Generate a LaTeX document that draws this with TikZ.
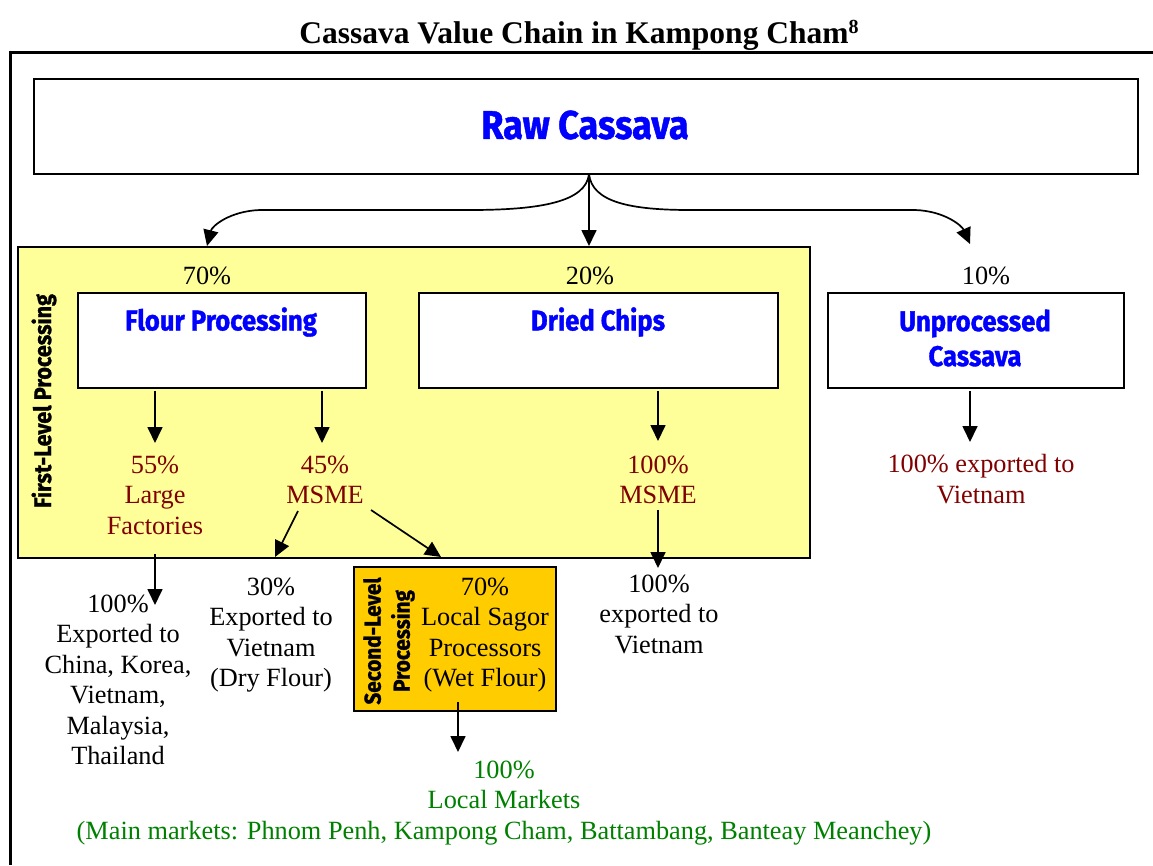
\documentclass[tikz,border=0pt]{standalone}
\usepackage{fontspec}
\setmainfont{Liberation Serif}
\newfontfamily\condfont[FakeStretch=0.9,FakeBold=1.2]{Fira Sans}
\usetikzlibrary{arrows.meta,calc}
\definecolor{dred}{RGB}{128,0,0}
\definecolor{dgreen}{RGB}{0,128,0}
\definecolor{lyellow}{RGB}{255,255,153}
\definecolor{gold}{RGB}{255,204,0}
\tikzset{
  box/.style={draw=black,line width=2pt,fill=white,inner sep=0pt,anchor=north west},
  lbl/.style={font=\condfont\bfseries\fontsize{28.5}{35}\selectfont,text=blue,align=center},
  txt/.style={font=\fontsize{26.3}{30.5}\selectfont,align=center,inner sep=0pt},
  rtxt/.style={txt,text=dred},
  gtxt/.style={txt,text=dgreen},
  side/.style={font=\condfont\bfseries\fontsize{24}{30}\selectfont,rotate=90,align=center,inner sep=0pt},
  arr/.style={line width=1.7pt,-{Triangle[width=15pt,length=16pt]}},
}
\begin{document}
\begin{tikzpicture}[x=1pt,y=-1pt]
\useasboundingbox (0,0) rectangle (1153,865);
% outer frame
\draw[line width=3pt] (10,865) -- (10,52) -- (1160,52);
% title
\node[font=\bfseries\fontsize{31.5}{34}\selectfont,inner sep=0pt] (title) at (579,35) {Cassava Value Chain in Kampong Cham\raisebox{10pt}{\fontsize{20}{20}\selectfont 8}};
% raw cassava
\node[box,minimum width=1104pt,minimum height=95pt] (raw) at (33,78) {};
\node[lbl,font=\condfont\bfseries\fontsize{40}{44}\selectfont] (rawt) at (585,125) {Raw Cassava};
% yellow first-level box
\node[box,fill=lyellow,minimum width=792pt,minimum height=311pt] (yel) at (17,246) {};
\node[side] (first) at (44,401) {First-Level Processing};
% percentages
\node[txt] (p70) at (207,276) {70\%};
\node[txt] (p20) at (590,276) {20\%};
\node[txt] (p10) at (986,276) {10\%};
% boxes
\node[box,minimum width=288pt,minimum height=95pt] (flour) at (77,292) {};
\node[lbl] (flourt) at (221,322) {Flour Processing};
\node[box,minimum width=359pt,minimum height=95pt] (chips) at (418,292) {};
\node[lbl] (chipst) at (598,322) {Dried Chips};
\node[box,minimum width=296pt,minimum height=95pt] (unp) at (827,292) {};
\node[lbl] (unpt) at (975,338) {Unprocessed\\Cassava};
% branch arrows
\coordinate (br) at (589,174);
\coordinate (t70) at (207,246);
\coordinate (t20) at (589,246);
\coordinate (t10) at (970,244);
\draw[arr] (br) .. controls (586,202) and (540,210) .. (470,210) -- (260,210) .. controls (230,211) and (212,226) .. (t70);
\draw[arr] (br) -- (t20);
\draw[arr] (br) .. controls (592,202) and (630,210) .. (690,210) -- (915,210) .. controls (945,211) and (962,226) .. (t10);
% first-level outcomes
\node[rtxt] (fac) at (155,495) {55\%\\Large\\Factories};
\node[rtxt] (msme) at (325,480) {45\%\\MSME};
\node[rtxt] (msme2) at (658,480) {100\%\\MSME};
\node[rtxt] (unpx) at (981,479) {100\% exported to\\Vietnam};
\coordinate (f1) at (155,391); \coordinate (f1e) at (155,443);
\coordinate (f2) at (322,391); \coordinate (f2e) at (322,443);
\coordinate (c1) at (658,391); \coordinate (c1e) at (658,441);
\coordinate (u1) at (970,391); \coordinate (u1e) at (970,442);
\draw[arr] (f1) -- (f1e);
\draw[arr] (f2) -- (f2e);
\draw[arr] (c1) -- (c1e);
\draw[arr] (u1) -- (u1e);
% second-level box
\node[box,fill=gold,minimum width=202pt,minimum height=144pt] (sec) at (353,566) {};
\node[side,font=\condfont\bfseries\fontsize{23}{29}\selectfont] (sect) at (389,641) {Second-Level\\Processing};
\node[txt] (sagor) at (485,635) {70\%\\Local Sagor\\Processors\\(Wet Flour)};
% lower texts
\node[txt] (exp1) at (118,680) {100\%\\Exported to\\China, Korea,\\Vietnam,\\Malaysia,\\Thailand};
\node[txt] (exp2) at (271,635) {30\%\\Exported to\\Vietnam\\(Dry Flour)};
\node[txt] (exp3) at (659,614) {100\%\\exported to\\Vietnam};
\node[gtxt] (loc) at (504,803) {100\%\\Local Markets\\(Main markets: Phnom Penh, Kampong Cham, Battambang, Banteay Meanchey)};
% lower arrows
\coordinate (m1) at (298,511); \coordinate (m1e) at (275,557);
\coordinate (m2) at (371,510); \coordinate (m2e) at (441,557);
\coordinate (l1) at (155,554); \coordinate (l1e) at (155,605);
\coordinate (d1) at (658,510); \coordinate (d1e) at (658,568);
\coordinate (s1) at (458,702); \coordinate (s1e) at (458,752);
\draw[arr] (m1) -- (m1e);
\draw[arr] (m2) -- (m2e);
\draw[arr] (l1) -- (l1e);
\draw[arr] (d1) -- (d1e);
\draw[arr] (s1) -- (s1e);
\end{tikzpicture}
\end{document}
